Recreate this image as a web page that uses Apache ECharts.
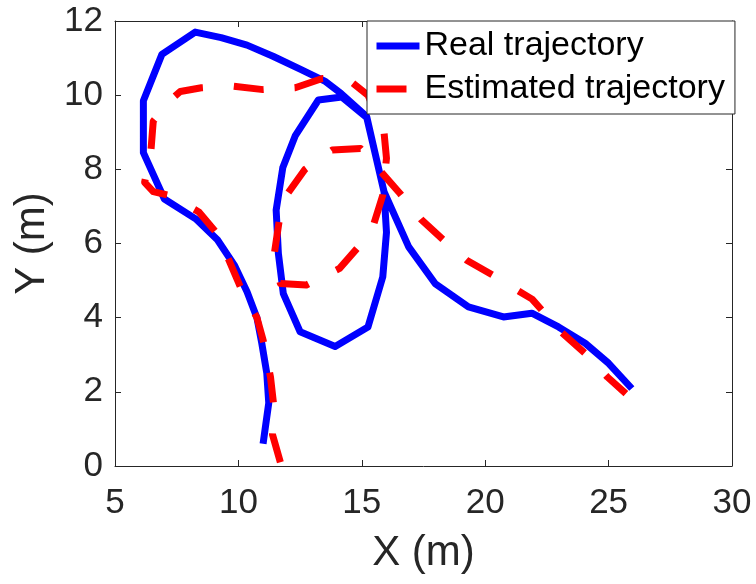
<!DOCTYPE html>
<html>
<head>
<meta charset="utf-8">
<script src="https://cdn.jsdelivr.net/npm/echarts@6/dist/echarts.min.js"></script>
<style>
  html, body { margin: 0; padding: 0; background: #fff; }
  #chart { width: 756px; height: 584px; }
</style>
</head>
<body>
<div id="chart"></div>
<script>
// Real path: up the left side, across the top, down the loop's right side,
// back up its left side, then off to the lower right.
const realX = [11.0, 11.23, 11.15, 10.95, 10.75, 10.35, 9.85, 9.15, 8.3, 7.0, 6.15, 6.15, 6.9, 8.25, 9.3, 10.35, 11.4, 12.5, 13.5, 14.15, 15.2, 15.55, 15.9, 16.0, 15.85, 15.25, 13.92, 12.5, 11.82, 11.62, 11.53, 11.8, 12.3, 13.24, 14.19, 15.2, 15.55, 15.9, 16.9, 17.97, 19.32, 20.74, 21.89, 22.97, 24.05, 25.0, 25.94];
const realY = [0.6, 1.7, 2.5, 3.3, 4.0, 4.7, 5.4, 6.1, 6.65, 7.2, 8.45, 9.85, 11.1, 11.7, 11.55, 11.35, 11.05, 10.7, 10.38, 10.05, 9.42, 8.4, 7.4, 6.3, 5.1, 3.75, 3.22, 3.62, 4.65, 5.73, 6.9, 8.05, 8.9, 9.87, 9.95, 9.4, 8.4, 7.4, 5.91, 4.92, 4.29, 4.02, 4.12, 3.75, 3.31, 2.77, 2.09];

// Estimated path, same traversal order
const estX = [11.7, 11.38, 11.42, 11.3, 11.0, 10.75, 10.1, 9.65, 9.1, 8.4, 7.2, 6.55, 6.2, 6.45, 6.55, 7.3, 7.65, 8.5, 9.7, 11.0, 12.3, 13.4, 14.5, 15.25, 15.9, 16.0, 15.85, 15.45, 14.85, 14.1, 12.75, 11.7, 11.45, 11.65, 12.0, 12.7, 13.8, 14.95, 16.55, 17.4, 18.3, 19.25, 20.3, 21.4, 21.9, 22.3, 23.1, 24.05, 24.95, 25.7];
const estY = [0.1, 0.85, 1.7, 2.4, 3.4, 4.0, 4.8, 5.5, 6.3, 6.85, 7.3, 7.4, 7.65, 8.45, 9.3, 9.9, 10.1, 10.2, 10.25, 10.15, 10.2, 10.45, 10.4, 10.0, 9.0, 8.3, 7.3, 6.45, 5.9, 5.33, 4.88, 4.92, 5.7, 6.6, 7.35, 8.0, 8.52, 8.56, 7.35, 6.65, 6.1, 5.55, 5.15, 4.7, 4.5, 4.2, 3.6, 3.04, 2.4, 1.95];

const xTicks = { min: 5, max: 30, step: 5 };
const yTicks = { min: 0, max: 12, step: 2 };
const seriesNames = ['Real trajectory', 'Estimated trajectory'];

const FONT = "'Liberation Sans', Arial, Helvetica, sans-serif";
const INK = '#262626';

const pairs = (xs, ys) => xs.map((x, i) => [x, ys[i]]);

const boxAxisX = (pos, labels) => ({
  type: 'value', position: pos, min: xTicks.min, max: xTicks.max, interval: xTicks.step,
  axisLine: { show: true, onZero: false, lineStyle: { color: INK, width: 1 } },
  axisTick: { show: true, inside: true, length: 6, lineStyle: { color: INK } },
  axisLabel: { show: labels, color: INK, fontSize: 35, fontFamily: FONT, margin: 20 },
  splitLine: { show: false }
});
const boxAxisY = (pos, labels) => ({
  type: 'value', position: pos, min: yTicks.min, max: yTicks.max, interval: yTicks.step,
  axisLine: { show: true, onZero: false, lineStyle: { color: INK, width: 1 } },
  axisTick: { show: true, inside: true, length: 6, lineStyle: { color: INK } },
  axisLabel: { show: labels, color: INK, fontSize: 35, fontFamily: FONT, margin: 12 },
  splitLine: { show: false }
});

const xMain = boxAxisX('bottom', true);
xMain.name = 'X (m)';
xMain.nameLocation = 'middle';
xMain.nameGap = 66;
xMain.nameTextStyle = { color: INK, fontSize: 42, fontFamily: FONT };

const yMain = boxAxisY('left', true);
yMain.name = 'Y (m)';
yMain.nameLocation = 'middle';
yMain.nameGap = 58;
yMain.nameTextStyle = { color: INK, fontSize: 42, fontFamily: FONT };

const chart = echarts.init(document.getElementById('chart'), null, { renderer: 'canvas' });
chart.setOption({
  animation: false,
  backgroundColor: '#fff',
  grid: { left: 115, right: 24, top: 21, bottom: 118, containLabel: false },
  xAxis: [xMain, boxAxisX('top', false)],
  yAxis: [yMain, boxAxisY('right', false)],
  legend: {
    data: seriesNames,
    orient: 'vertical',
    left: 367, top: 21,
    padding: [8, 10, 8, 6],
    itemGap: 9,
    itemWidth: 43,
    itemHeight: 2,
    backgroundColor: '#fff',
    borderColor: INK,
    borderWidth: 1,
    borderRadius: 0,
    itemStyle: { opacity: 0 },
    lineStyle: { width: 7 },
    textStyle: { color: '#000', fontSize: 34, fontFamily: FONT }
  },
  series: [
    {
      name: seriesNames[0], type: 'line', data: pairs(realX, realY),
      symbol: 'none', color: '#0000ff', z: 2,
      lineStyle: { color: '#0000ff', width: 7, cap: 'butt', join: 'round' }
    },
    {
      name: seriesNames[1], type: 'line', data: pairs(estX, estY),
      symbol: 'none', color: '#ff0000', z: 3,
      lineStyle: { color: '#ff0000', width: 7, type: [30, 31], cap: 'butt', join: 'round' }
    }
  ]
});
</script>
</body>
</html>
